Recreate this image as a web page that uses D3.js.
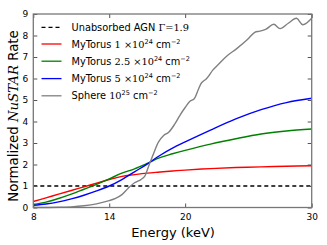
<!DOCTYPE html>
<html>
<head>
<meta charset="utf-8">
<script src="https://cdn.jsdelivr.net/npm/d3@7"></script>
<style>
  body { margin: 0; background: #fff; }
  text { font-family: "DejaVu Sans", sans-serif; }
</style>
</head>
<body>
<div id="chart"></div>
<script>
const energy = [8, 9, 10, 11, 12, 13, 14, 15, 16, 17, 18, 19, 20, 22, 24, 26, 28, 30];
const torus1 = [0.28, 0.45, 0.62, 0.79, 0.96, 1.13, 1.3, 1.45, 1.53, 1.6, 1.65, 1.7, 1.74, 1.81, 1.86, 1.89, 1.92, 1.94];
const torus25 = [0.14, 0.25, 0.42, 0.62, 0.85, 1.08, 1.33, 1.6, 1.8, 2.05, 2.32, 2.5, 2.66, 2.95, 3.2, 3.42, 3.56, 3.65];
const torus5 = [0.1, 0.16, 0.26, 0.4, 0.57, 0.77, 1.0, 1.3, 1.66, 2.02, 2.42, 2.76, 3.05, 3.6, 4.12, 4.55, 4.88, 5.08];

const sphereE = [8, 10, 11, 12, 13, 14, 14.5, 15, 15.5, 16, 16.5, 16.8, 17.1, 17.5, 17.9, 18.3, 18.7, 19.2, 19.6, 20, 20.4, 20.7, 21.05, 21.3, 21.7, 22.2, 22.7, 23.3, 24.1, 24.9, 25.5, 25.9, 26.4, 27, 27.5, 28.15, 28.8, 29.3, 30];
const sphere = [0, 0.01, 0.03, 0.08, 0.17, 0.32, 0.42, 0.6, 0.9, 1.15, 1.3, 1.45, 1.9, 2.5, 3.05, 3.35, 3.5, 3.9, 4.3, 4.65, 4.95, 5.05, 5.5, 5.8, 6.0, 6.4, 6.7, 7.05, 7.4, 7.8, 8.15, 8.2, 8.3, 8.52, 8.32, 8.57, 8.8, 8.5, 8.8];

const unabsorbed = 1;
const xTicks = [8, 14, 20, 30];
const yTicks = [0, 1, 2, 3, 4, 5, 6, 7, 8, 9];

const width = 327, height = 245;
const margin = {top: 14, right: 15.3, bottom: 37.5, left: 33.3};
const iw = width - margin.left - margin.right, ih = height - margin.top - margin.bottom;

const svg = d3.select("#chart").append("svg")
    .attr("width", width)
    .attr("height", height);

const g = svg.append("g").attr("transform", `translate(${margin.left},${margin.top})`);

const x = d3.scaleLinear().domain([8, 30]).range([0, iw]);
const y = d3.scaleLinear().domain([0, 9]).range([ih, 0]);

const line = d3.line()
    .x(d => x(d[0]))
    .y(d => y(d[1]))
    .curve(d3.curveCatmullRom);

// dashed unabsorbed level
g.append("line")
    .attr("x1", x(8)).attr("x2", x(30))
    .attr("y1", y(unabsorbed)).attr("y2", y(unabsorbed))
    .attr("stroke", "black").attr("stroke-width", 1.3)
    .attr("stroke-dasharray", "4,3");

const series = [
    {xs: energy, ys: torus1, color: "#ff0000"},
    {xs: energy, ys: torus25, color: "#008000"},
    {xs: energy, ys: torus5, color: "#0000ff"},
    {xs: sphereE, ys: sphere, color: "#808080"}
];

series.forEach(s => {
    g.append("path")
        .datum(s.xs.map((e, i) => [e, s.ys[i]]))
        .attr("fill", "none")
        .attr("stroke", s.color)
        .attr("stroke-width", 1.4)
        .attr("d", line);
});

// axes with inward ticks (matplotlib classic)
const tl = 4;
const xAxis = g.append("g").attr("transform", `translate(0,${ih})`)
    .call(d3.axisBottom(x).tickValues(xTicks).tickSizeInner(-tl).tickSizeOuter(0).tickPadding(6));
const xTop = g.append("g")
    .call(d3.axisTop(x).tickValues(xTicks).tickSizeInner(-tl).tickSizeOuter(0).tickFormat(""));
const yAxis = g.append("g")
    .call(d3.axisLeft(y).tickValues(yTicks).tickSizeInner(-tl).tickSizeOuter(0).tickPadding(5));
const yRight = g.append("g").attr("transform", `translate(${iw},0)`)
    .call(d3.axisRight(y).tickValues(yTicks).tickSizeInner(-tl).tickSizeOuter(0).tickFormat(""));

[xAxis, xTop, yAxis, yRight].forEach(a => {
    a.select(".domain").remove();
    a.selectAll("line").attr("stroke", "#555");
    a.selectAll("text").attr("font-size", 9).attr("fill", "black")
        .attr("font-family", "DejaVu Sans");
});

g.append("rect")
    .attr("width", iw).attr("height", ih)
    .attr("fill", "none").attr("stroke", "#777").attr("stroke-width", 1.3);

// axis labels
svg.append("text")
    .attr("x", 173).attr("y", 237)
    .attr("text-anchor", "middle").attr("font-size", 13)
    .text("Energy (keV)");

const yl = svg.append("text")
    .attr("transform", `translate(18,116) rotate(-90)`)
    .attr("text-anchor", "middle").attr("font-size", 13.3);
yl.append("tspan").text("Normalized ");
yl.append("tspan").attr("font-family", "DejaVu Serif").attr("font-style", "italic").text("NuSTAR");
yl.append("tspan").text(" Rate");

// legend
const legend = [
    {dash: true, color: "black", parts: [["Unabsorbed AGN ", "sans"], ["Γ=1.9", "serif"]]},
    {color: "#ff0000", parts: [["MyTorus ", "sans"], ["1 ×10", "serif"], ["24", "sup"], ["  cm", "sans"], ["−2", "sup"]]},
    {color: "#008000", parts: [["MyTorus ", "sans"], ["2.5 ×10", "serif"], ["24", "sup"], ["  cm", "sans"], ["−2", "sup"]]},
    {color: "#0000ff", parts: [["MyTorus ", "sans"], ["5 ×10", "serif"], ["24", "sup"], ["  cm", "sans"], ["−2", "sup"]]},
    {color: "#808080", parts: [["Sphere ", "sans"], ["10", "serif"], ["25", "sup"], ["  cm", "sans"], ["−2", "sup"]]}
];
const legendY = [27.3, 44, 61.2, 78.6, 95.8];

legend.forEach((d, i) => {
    const ly = legendY[i];
    svg.append("line")
        .attr("x1", 41.5).attr("x2", 61.5).attr("y1", ly).attr("y2", ly)
        .attr("stroke", d.color).attr("stroke-width", 1.3)
        .attr("stroke-dasharray", d.dash ? "4,3" : null);
    const t = svg.append("text").attr("x", 71.5).attr("y", ly + 3.6).attr("font-size", 9.8);
    let up = false;
    d.parts.forEach(p => {
        const ts = t.append("tspan").text(p[0]);
        if (p[1] === "serif") {
            ts.attr("font-family", "DejaVu Serif");
            if (up) { ts.attr("dy", 4); up = false; }
        } else if (p[1] === "sup") {
            ts.attr("font-size", 6.5).attr("dy", up ? 0 : -4);
            up = true;
        } else if (up) {
            ts.attr("dy", 4); up = false;
        }
    });
});
</script>
</body>
</html>
